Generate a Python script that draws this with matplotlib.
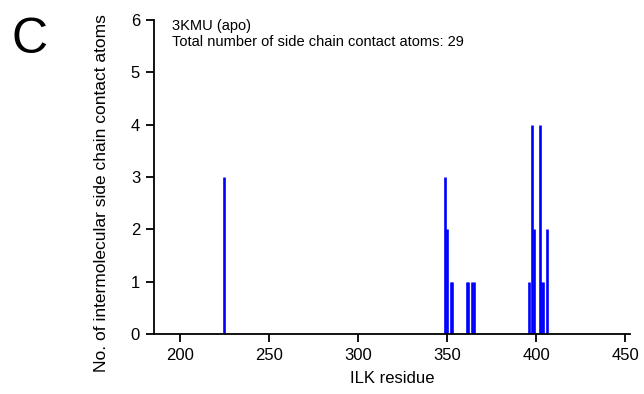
import matplotlib
matplotlib.use("Agg")
import matplotlib.pyplot as plt

plt.rcParams['font.family'] = ['Liberation Sans', 'DejaVu Sans']

residues = [225, 349, 350, 352, 353, 361, 362, 364, 365,
            396, 398, 399, 402, 403, 404, 406]
counts = [3, 3, 2, 1, 1, 1, 1, 1, 1,
          1, 4, 2, 4, 1, 1, 2]
xticks = [200, 250, 300, 350, 400, 450]
yticks = [0, 1, 2, 3, 4, 5, 6]

fig = plt.figure(figsize=(6.44, 3.94), dpi=100)
ax = fig.add_axes([154/644, 60/394, (630-154)/644, (334-20)/394])

ax.vlines(residues, 0, counts, colors='#0000ff', linewidth=1.9)

ax.set_xlim(185.4, 452.8)
ax.set_ylim(0, 6)
ax.set_xticks(xticks)
ax.set_yticks(yticks)
for s in ['top', 'right']:
    ax.spines[s].set_visible(False)
for s in ['left', 'bottom']:
    ax.spines[s].set_linewidth(1.3)
ax.tick_params(axis='both', direction='out', length=6, width=1.3, labelsize=12, pad=4)

ax.set_xlabel('ILK residue', fontsize=12, labelpad=6)
ax.set_ylabel('No. of intermolecular side chain contact atoms', fontsize=12.5)
ax.yaxis.set_label_coords(-0.094, 0.45)

ax.text(0.038, 1.003, '3KMU (apo)\nTotal number of side chain contact atoms: 29',
        transform=ax.transAxes, fontsize=10.5, va='top', ha='left', linespacing=1.15)

fig.text(12/644, 1 - 53/394, 'C', fontsize=36, ha='left', va='baseline')

fig.savefig('out.png', dpi=100)
